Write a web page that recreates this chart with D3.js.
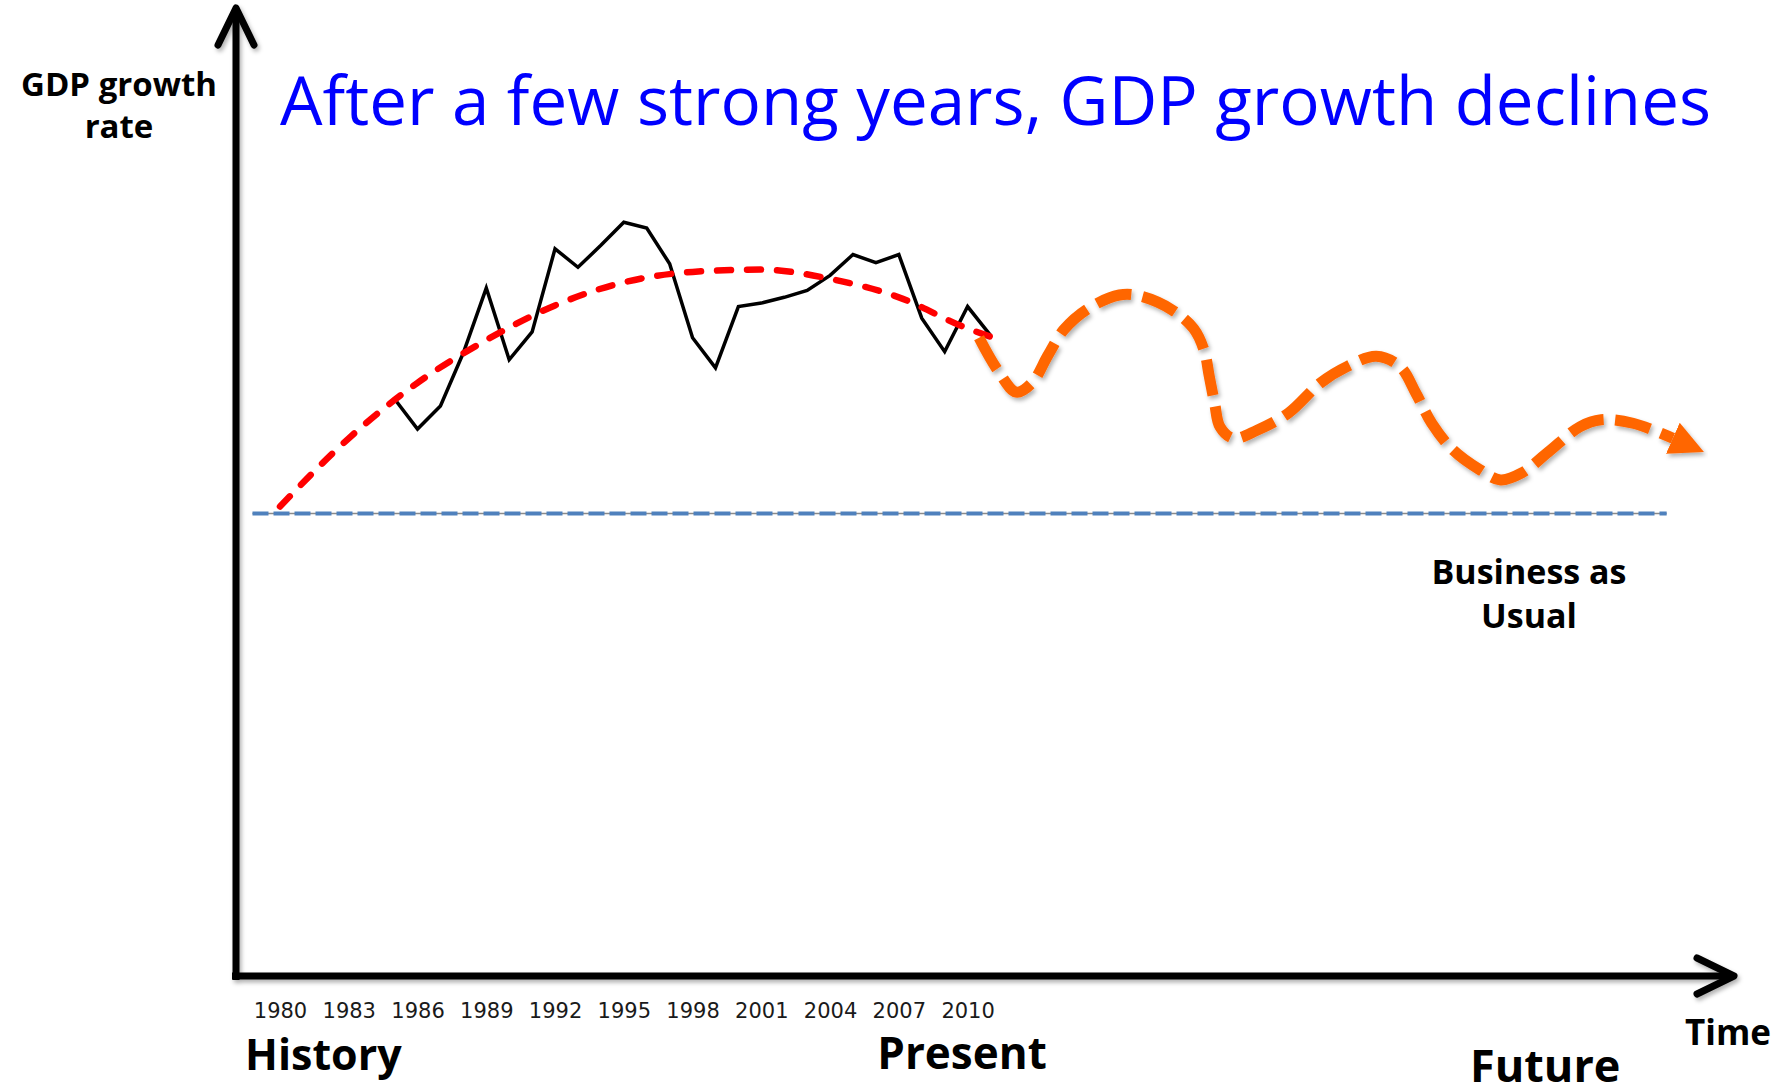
<!DOCTYPE html>
<html>
<head>
<meta charset="utf-8">
<script src="https://cdn.jsdelivr.net/npm/d3@7"></script>
<style>
  body { margin: 0; background: #fff; }
  text { font-family: "Open Sans", sans-serif; }
</style>
</head>
<body>
<div id="chart"></div>
<script>
// history: GDP growth (arbitrary % units, BAU line = 4)
const years = [1985, 1986, 1987, 1988, 1989, 1990, 1991, 1992, 1993, 1994, 1995, 1996, 1997, 1998,
  1999, 2000, 2001, 2002, 2003, 2004, 2005, 2006, 2007, 2008, 2009, 2010, 2011];
const gdpGrowth = [4.99, 4.73, 4.93, 5.39, 5.95, 5.33, 5.57, 6.29, 6.13, 6.32, 6.52, 6.47, 6.16, 5.52,
  5.26, 5.79, 5.82, 5.87, 5.93, 6.06, 6.24, 6.17, 6.24, 5.69, 5.40, 5.79, 5.54];

// red dashed trend
const trendYears = [1980, 1983, 1986, 1989, 1992, 1995, 1998, 2001, 2004, 2007, 2010, 2011];
const trendValues = [4.06, 4.65, 5.13, 5.50, 5.80, 6.00, 6.09, 6.11, 6.03, 5.87, 5.60, 5.53];

// orange wavy forecast
const forecastYears = [2010.50, 2011.31, 2012.12, 2012.81, 2013.51, 2014.20, 2015.24, 2016.62, 2017.55,
  2018.93, 2019.86, 2020.32, 2020.55, 2020.78, 2021.01, 2021.59, 2022.63, 2024.01, 2025.40, 2026.55,
  2027.83, 2028.87, 2029.56, 2030.25, 2031.17, 2032.33, 2033.25, 2034.18, 2035.33, 2036.72, 2037.64,
  2039.03, 2040.77];
const forecastValues = [5.52, 5.24, 5.05, 5.13, 5.37, 5.59, 5.77, 5.89, 5.88,
  5.76, 5.60, 5.41, 5.18, 4.95, 4.75, 4.65, 4.72, 4.87, 5.13, 5.27,
  5.36, 5.27, 5.04, 4.78, 4.55, 4.38, 4.29, 4.35, 4.53, 4.75, 4.81,
  4.78, 4.65];

// business as usual line
const baselineValue = 4;
const baselineSpan = [1978.8, 2040.5];

const tickYears = [1980, 1983, 1986, 1989, 1992, 1995, 1998, 2001, 2004, 2007, 2010];

const W = 1785, H = 1084;
const originX = 236, originY = 976;

const x = d3.scaleLinear().domain([1980, 2040]).range([280, 1655.2]);
const y = d3.scaleLinear().domain([0, 4]).range([975.6, 513.4]);

const svg = d3.select('#chart').append('svg')
  .attr('width', W)
  .attr('height', H);

const defs = svg.append('defs');
const shadow = defs.append('filter').attr('id', 'shadow')
  .attr('x', '-5%').attr('y', '-5%').attr('width', '110%').attr('height', '120%');
shadow.append('feDropShadow')
  .attr('dx', 2).attr('dy', 3).attr('stdDeviation', 2)
  .attr('flood-color', '#000').attr('flood-opacity', 0.3);

defs.append('marker')
  .attr('id', 'arrow')
  .attr('viewBox', '0 0 34 34')
  .attr('refX', 0).attr('refY', 17)
  .attr('markerWidth', 34).attr('markerHeight', 34)
  .attr('markerUnits', 'userSpaceOnUse')
  .attr('orient', 'auto')
  .append('path')
  .attr('d', 'M0,0L34,17L0,34Z')
  .attr('fill', '#FF6600');

// axes as arrows
const axes = svg.append('g').attr('filter', 'url(#shadow)')
  .attr('fill', 'none').attr('stroke', '#000').attr('stroke-width', 7);
axes.append('path').attr('d', `M${originX},${originY + 4}V8`);
axes.append('path').attr('d', `M${originX - 4},${originY}H1734`);
axes.append('path').attr('d', 'M218,45L236,8L254,45')
  .attr('stroke-linecap', 'round').attr('stroke-linejoin', 'round');
axes.append('path').attr('d', 'M1697,958L1734,976L1697,994')
  .attr('stroke-linecap', 'round').attr('stroke-linejoin', 'round');

// business as usual
svg.append('line')
  .attr('x1', x(baselineSpan[0])).attr('x2', x(baselineSpan[1]))
  .attr('y1', y(baselineValue)).attr('y2', y(baselineValue))
  .attr('stroke', '#8a8a8a').attr('stroke-width', 1.5);
svg.append('line')
  .attr('x1', x(baselineSpan[0])).attr('x2', x(baselineSpan[1]))
  .attr('y1', y(baselineValue)).attr('y2', y(baselineValue))
  .attr('stroke', '#4F81BD').attr('stroke-width', 4)
  .attr('stroke-dasharray', '16,5');

// history
const histLine = d3.line().x((d, i) => x(years[i])).y((d) => y(d));
svg.append('path')
  .datum(gdpGrowth)
  .attr('d', histLine)
  .attr('fill', 'none')
  .attr('stroke', '#000')
  .attr('stroke-width', 3.5);

// trend
const trendLine = d3.line().x((d, i) => x(trendYears[i])).y((d) => y(d)).curve(d3.curveMonotoneX);
svg.append('path')
  .datum(trendValues)
  .attr('d', trendLine)
  .attr('fill', 'none')
  .attr('stroke', '#FF0000')
  .attr('stroke-width', 6.5)
  .attr('stroke-linecap', 'round')
  .attr('stroke-dasharray', '14,16');

// forecast
const fcLine = d3.line().x((d, i) => x(forecastYears[i])).y((d) => y(d)).curve(d3.curveCatmullRom.alpha(0.5));
svg.append('path')
  .datum(forecastValues)
  .attr('d', fcLine)
  .attr('fill', 'none')
  .attr('stroke', '#FF6600')
  .attr('stroke-width', 11)
  .attr('stroke-dasharray', '36,11.5')
  .attr('marker-end', 'url(#arrow)')
  .attr('filter', 'url(#shadow)');

// year labels
const xAxis = svg.append('g')
  .attr('transform', 'translate(0,1018)')
  .call(d3.axisBottom(x).tickValues(tickYears).tickFormat(d3.format('d')).tickSize(0));
xAxis.select('.domain').remove();
xAxis.selectAll('text')
  .attr('y', 0).attr('dy', 0)
  .style('font-family', '"DejaVu Sans", sans-serif')
  .style('font-size', '21px')
  .attr('fill', '#1a1a1a');

// texts
svg.append('text')
  .attr('x', 280).attr('y', 125)
  .attr('fill', '#0000FF')
  .style('font-size', '68px')
  .attr('textLength', 1431)
  .attr('lengthAdjust', 'spacingAndGlyphs')
  .text('After a few strong years, GDP growth declines');

const label = (t, px, py, size, anchor) => svg.append('text')
  .attr('x', px).attr('y', py)
  .attr('text-anchor', anchor || 'start')
  .style('font-size', size + 'px')
  .style('font-weight', 'bold')
  .attr('fill', '#000')
  .text(t);

label('GDP growth', 119, 96, 33, 'middle');
label('rate', 119, 138, 33, 'middle');
label('History', 245, 1069.5, 43);
label('Present', 962, 1068.5, 44, 'middle');
label('Future', 1470, 1082, 45);
label('Time', 1685, 1045, 35);
label('Business as', 1529, 584, 34, 'middle');
label('Usual', 1529, 628, 34, 'middle');
</script>
</body>
</html>
